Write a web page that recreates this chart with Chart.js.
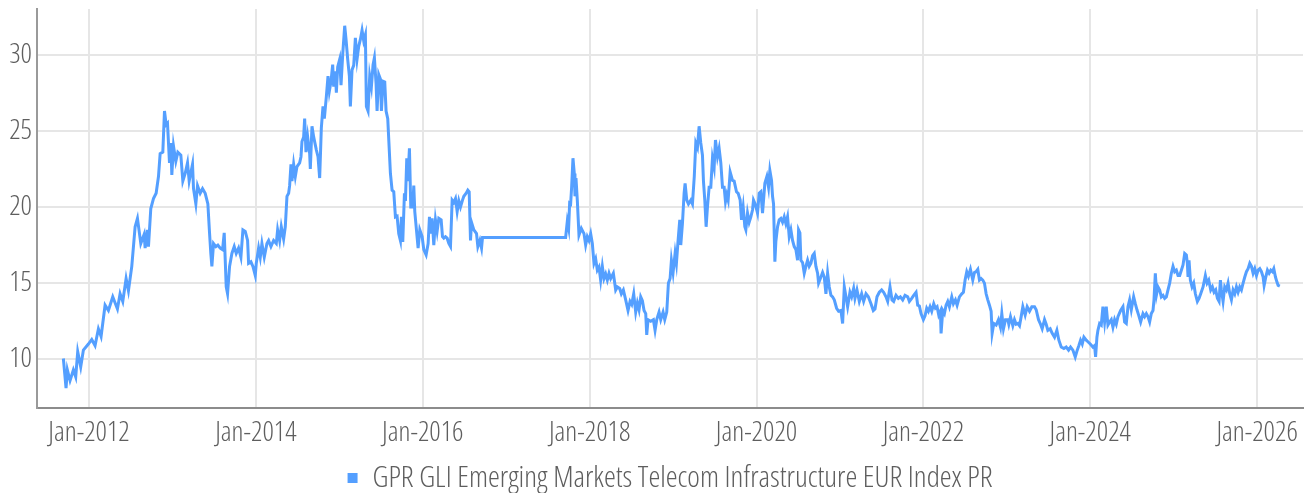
<!DOCTYPE html>
<html lang="en">
<head>
    <meta charset="UTF-8">
    <title>GPR GLI Emerging Markets Telecom Infrastructure EUR Index PR</title>
    <script src="https://cdn.jsdelivr.net/npm/chart.js@4"></script>
    <style>
        html, body { margin: 0; padding: 0; background: #ffffff; }
        #wrap { width: 1312px; height: 493px; }
    </style>
</head>
<body>
    <div id="wrap"><canvas id="indexChart" width="1312" height="493"></canvas></div>

    <script>
        const seriesLabel = 'GPR GLI Emerging Markets Telecom Infrastructure EUR Index PR';
        const xTicks = [2012, 2014, 2016, 2018, 2020, 2022, 2024, 2026];
        const yTicks = [10, 15, 20, 25, 30];

        const dates2011_2013 = [
            2011.692, 2011.724, 2011.740, 2011.772, 2011.812, 2011.840, 2011.864, 2011.900, 2011.932, 2011.992,
            2012.032, 2012.072, 2012.112, 2012.144, 2012.192, 2012.232, 2012.284, 2012.340, 2012.372, 2012.404,
            2012.444, 2012.472, 2012.512, 2012.552, 2012.580, 2012.620, 2012.660, 2012.672, 2012.700, 2012.712,
            2012.740, 2012.772, 2012.804, 2012.832, 2012.852, 2012.884, 2012.904, 2012.924, 2012.940, 2012.964,
            2012.980, 2012.992, 2013.012, 2013.040, 2013.064, 2013.100, 2013.124, 2013.152, 2013.180, 2013.200,
            2013.240, 2013.252, 2013.280, 2013.300, 2013.332, 2013.360, 2013.392, 2013.424, 2013.444, 2013.460,
            2013.472, 2013.492, 2013.520, 2013.544, 2013.572, 2013.600, 2013.620, 2013.644, 2013.660, 2013.684,
            2013.712, 2013.740, 2013.764, 2013.792, 2013.820, 2013.844, 2013.872, 2013.900, 2013.912, 2013.940,
            2013.964, 2013.992
        ];
        const values2011_2013 = [
            10.05, 8.1, 9.3, 8.6, 9.3, 8.85, 10.5, 9.5, 10.6, 11.0,
            11.3, 10.9, 12.0, 11.5, 13.55, 13.2, 14.1, 13.3, 14.3, 13.8,
            15.3, 14.5, 16.1, 18.7, 19.25, 17.6, 18.2, 17.3, 18.5, 17.4,
            19.9, 20.55, 20.9, 22.0, 23.5, 23.6, 26.3, 25.4, 25.5, 22.9,
            24.2, 22.1, 24.0, 23.0, 23.6, 23.4, 21.7, 22.2, 22.9, 21.7,
            22.8, 21.2, 20.2, 21.4, 20.9, 21.2, 20.9, 20.2, 18.3, 16.9,
            16.1, 17.6, 17.4, 17.5, 17.3, 17.2, 18.3, 14.75, 14.3, 16.1,
            16.95, 17.4, 16.95, 17.3, 16.7, 18.5, 18.4, 17.8, 16.3, 16.4,
            16.1, 15.5
        ];

        const dates2014_2016 = [
            2014.004, 2014.032, 2014.052, 2014.072, 2014.100, 2014.132, 2014.152, 2014.180, 2014.212, 2014.244,
            2014.260, 2014.284, 2014.304, 2014.332, 2014.352, 2014.372, 2014.392, 2014.404, 2014.420, 2014.432,
            2014.452, 2014.472, 2014.492, 2014.524, 2014.540, 2014.552, 2014.572, 2014.584, 2014.600, 2014.620,
            2014.644, 2014.652, 2014.672, 2014.692, 2014.724, 2014.744, 2014.764, 2014.784, 2014.804, 2014.820,
            2014.844, 2014.864, 2014.880, 2014.900, 2014.920, 2014.932, 2014.952, 2014.964, 2014.980, 2015.004,
            2015.020, 2015.040, 2015.064, 2015.080, 2015.100, 2015.120, 2015.132, 2015.152, 2015.172, 2015.192,
            2015.212, 2015.232, 2015.252, 2015.272, 2015.292, 2015.312, 2015.324, 2015.344, 2015.364, 2015.384,
            2015.404, 2015.420, 2015.440, 2015.452, 2015.472, 2015.492, 2015.504, 2015.524, 2015.544, 2015.560,
            2015.580, 2015.596, 2015.612, 2015.632, 2015.652, 2015.672, 2015.692, 2015.712, 2015.732, 2015.744,
            2015.760, 2015.780, 2015.792, 2015.808, 2015.820, 2015.840, 2015.856, 2015.880, 2015.892, 2015.904,
            2015.924, 2015.944, 2015.964, 2015.992, 2016.012, 2016.040, 2016.064, 2016.080, 2016.092, 2016.112,
            2016.132, 2016.152, 2016.172, 2016.192, 2016.220, 2016.236, 2016.252, 2016.272, 2016.292, 2016.312,
            2016.332, 2016.352, 2016.372, 2016.392, 2016.412, 2016.432, 2016.452, 2016.476, 2016.492, 2016.520,
            2016.540, 2016.556, 2016.572, 2016.584, 2016.612, 2016.644, 2016.660, 2016.684, 2016.704, 2016.716
        ];
        const values2014_2016 = [
            16.3, 17.3, 16.7, 17.6, 16.7, 17.6, 17.8, 17.4, 17.8, 17.6,
            18.5, 17.8, 18.7, 17.9, 18.7, 20.7, 20.9, 21.4, 22.8, 21.7,
            22.8, 22.0, 22.65, 22.9, 23.3, 24.3, 24.6, 25.8, 23.6, 24.6,
            23.5, 22.5, 25.3, 24.6, 23.75, 23.3, 21.9, 25.2, 26.6, 25.8,
            27.25, 28.6, 27.6, 28.25, 29.35, 27.9, 28.9, 27.5, 29.2, 29.7,
            28.0, 30.0, 31.9, 31.0, 29.7, 28.6, 26.6, 29.0, 29.3, 31.1,
            29.7, 30.55, 31.0, 31.6, 30.9, 31.3, 26.6, 26.3, 28.6, 27.9,
            29.35, 29.8, 28.1, 26.3, 28.7, 28.4, 26.3, 28.25, 28.2, 26.3,
            25.8, 24.0, 22.2, 21.1, 21.0, 19.35, 19.4, 18.25, 17.8, 19.35,
            17.7, 20.9, 20.4, 23.2, 21.7, 23.85, 20.0, 20.0, 21.4, 19.7,
            18.5, 17.3, 18.5, 18.05, 17.2, 16.85, 17.6, 19.35, 18.25, 19.25,
            17.5, 19.15, 18.4, 19.25, 19.15, 18.05, 17.95, 18.05, 17.95, 17.6,
            17.4, 20.45, 20.3, 20.55, 19.7, 20.4, 20.0, 20.45, 20.7, 20.9,
            21.1, 21.0, 17.8, 19.0, 18.5, 18.25, 17.4, 17.8, 17.3, 18.0
        ];

        const dates2017_2019 = [
            2017.712, 2017.732, 2017.748, 2017.760, 2017.772, 2017.784, 2017.800, 2017.816, 2017.824, 2017.836,
            2017.852, 2017.872, 2017.900, 2017.932, 2017.952, 2017.972, 2017.992, 2018.012, 2018.032, 2018.052,
            2018.072, 2018.092, 2018.112, 2018.132, 2018.152, 2018.172, 2018.192, 2018.212, 2018.232, 2018.252,
            2018.284, 2018.312, 2018.332, 2018.360, 2018.380, 2018.404, 2018.432, 2018.460, 2018.484, 2018.504,
            2018.528, 2018.552, 2018.572, 2018.592, 2018.612, 2018.632, 2018.652, 2018.672, 2018.684, 2018.700,
            2018.732, 2018.764, 2018.784, 2018.804, 2018.832, 2018.852, 2018.880, 2018.900, 2018.924, 2018.944,
            2018.964, 2018.980, 2019.000, 2019.024, 2019.040, 2019.060, 2019.080, 2019.092, 2019.112, 2019.132,
            2019.144, 2019.164, 2019.184, 2019.212, 2019.232, 2019.254, 2019.272, 2019.292, 2019.312, 2019.332,
            2019.352, 2019.364, 2019.380, 2019.396, 2019.412, 2019.432, 2019.452, 2019.472, 2019.492, 2019.508,
            2019.532, 2019.552, 2019.572, 2019.592, 2019.612, 2019.628, 2019.644, 2019.660, 2019.684, 2019.712,
            2019.732, 2019.760, 2019.780, 2019.804, 2019.820, 2019.840, 2019.860, 2019.872, 2019.892, 2019.912,
            2019.932, 2019.952, 2019.964, 2019.984
        ];
        const values2017_2019 = [
            18.0, 19.05, 18.6, 20.25, 20.2, 21.3, 23.2, 22.2, 20.7, 21.9,
            20.45, 18.15, 18.6, 18.25, 17.5, 18.05, 17.8, 18.25, 17.6, 16.3,
            16.6, 15.85, 16.05, 15.2, 16.1, 15.3, 15.6, 15.2, 15.65, 15.3,
            15.65, 14.55, 14.75, 14.65, 14.3, 14.55, 13.9, 13.2, 13.8, 13.6,
            14.3, 13.1, 13.7, 13.25, 14.1, 13.85, 13.2, 13.0, 11.6, 12.6,
            12.5, 12.6, 11.9, 12.6, 13.1, 12.6, 13.1, 12.6, 13.1, 15.0,
            15.3, 16.5, 15.7, 16.95, 16.3, 17.8, 19.15, 17.5, 18.9, 20.9,
            21.55, 20.45, 20.2, 20.45, 20.2, 22.0, 24.2, 23.9, 25.3, 24.2,
            23.4, 21.7, 20.45, 18.7, 20.0, 21.3, 21.3, 23.2, 22.6, 24.4,
            23.3, 23.85, 22.9, 21.3, 21.3, 20.35, 20.8, 20.45, 22.3, 21.75,
            21.7, 21.0, 20.9, 20.45, 19.15, 20.0, 18.7, 18.5, 19.6, 19.0,
            19.35, 19.8, 20.45, 20.2
        ];

        const dates2020_2022 = [
            2020.012, 2020.032, 2020.052, 2020.072, 2020.100, 2020.124, 2020.144, 2020.160, 2020.180, 2020.192,
            2020.204, 2020.220, 2020.232, 2020.252, 2020.272, 2020.292, 2020.312, 2020.332, 2020.352, 2020.372,
            2020.392, 2020.412, 2020.432, 2020.452, 2020.472, 2020.492, 2020.504, 2020.520, 2020.532, 2020.552,
            2020.572, 2020.592, 2020.612, 2020.632, 2020.652, 2020.672, 2020.692, 2020.712, 2020.732, 2020.744,
            2020.772, 2020.792, 2020.812, 2020.832, 2020.852, 2020.872, 2020.892, 2020.912, 2020.932, 2020.960,
            2020.984, 2021.012, 2021.032, 2021.052, 2021.072, 2021.092, 2021.120, 2021.140, 2021.164, 2021.180,
            2021.204, 2021.232, 2021.260, 2021.284, 2021.312, 2021.340, 2021.372, 2021.400, 2021.420, 2021.444,
            2021.472, 2021.500, 2021.524, 2021.552, 2021.572, 2021.600, 2021.624, 2021.644, 2021.672, 2021.700,
            2021.724, 2021.752, 2021.780, 2021.812, 2021.832, 2021.860, 2021.884, 2021.912, 2021.932, 2021.952,
            2021.972, 2022.000, 2022.020, 2022.040, 2022.060, 2022.080, 2022.100, 2022.124, 2022.144, 2022.164,
            2022.184, 2022.204, 2022.212, 2022.232, 2022.252, 2022.272, 2022.292, 2022.312, 2022.340, 2022.360,
            2022.384, 2022.404, 2022.432, 2022.460, 2022.480, 2022.500, 2022.520, 2022.540, 2022.564, 2022.592,
            2022.612, 2022.632, 2022.652, 2022.672, 2022.692, 2022.712, 2022.732, 2022.752, 2022.772, 2022.792,
            2022.812, 2022.824, 2022.844, 2022.872, 2022.900, 2022.924, 2022.940, 2022.960, 2022.984
        ];
        const values2020_2022 = [
            19.6, 20.9, 21.0, 19.6, 21.55, 22.0, 21.3, 22.4, 21.75, 20.7,
            20.2, 16.4, 17.75, 18.7, 19.15, 19.25, 19.0, 19.35, 18.9, 19.35,
            18.05, 18.5, 17.8, 17.4, 17.2, 16.5, 18.5, 18.3, 16.5, 16.35,
            15.65, 16.1, 16.5, 16.1, 16.3, 16.8, 16.95, 16.1, 15.65, 15.0,
            15.4, 15.7, 15.4, 14.3, 15.65, 14.75, 14.2, 14.1, 13.9, 13.35,
            13.15, 13.2, 12.35, 14.75, 14.1, 13.45, 14.4, 14.1, 14.65, 14.0,
            14.55, 13.8, 14.3, 13.8, 14.3, 14.1, 13.65, 13.2, 13.3, 14.1,
            14.4, 14.55, 14.4, 14.1, 13.8, 14.75, 13.9, 13.8, 14.2, 14.0,
            14.1, 13.9, 14.2, 14.1, 13.8, 14.0, 14.2, 14.4, 13.55, 13.5,
            13.0, 12.6, 12.85, 13.35, 13.15, 13.45, 13.15, 13.65, 13.35, 13.45,
            12.9, 13.15, 11.7, 13.2, 13.0, 13.55, 13.8, 13.45, 14.1, 13.65,
            13.9, 13.55, 14.1, 14.3, 14.4, 15.2, 15.75, 15.45, 15.9, 15.2,
            15.7, 15.75, 15.9, 15.2, 15.3, 15.2, 15.0, 14.3, 13.9, 13.55,
            13.15, 11.7, 12.35, 12.25, 12.6, 12.1, 13.0, 12.0, 12.6
        ];

        const dates2023_2026 = [
            2023.012, 2023.024, 2023.044, 2023.072, 2023.092, 2023.112, 2023.132, 2023.152, 2023.172, 2023.192,
            2023.220, 2023.244, 2023.272, 2023.300, 2023.332, 2023.352, 2023.380, 2023.404, 2023.424, 2023.452,
            2023.472, 2023.492, 2023.520, 2023.544, 2023.572, 2023.600, 2023.624, 2023.652, 2023.684, 2023.712,
            2023.740, 2023.764, 2023.792, 2023.820, 2023.844, 2023.864, 2023.884, 2023.904, 2023.924, 2023.952,
            2023.972, 2024.000, 2024.032, 2024.052, 2024.064, 2024.080, 2024.092, 2024.112, 2024.132, 2024.152,
            2024.172, 2024.192, 2024.212, 2024.232, 2024.252, 2024.272, 2024.292, 2024.312, 2024.332, 2024.364,
            2024.392, 2024.412, 2024.432, 2024.452, 2024.472, 2024.492, 2024.520, 2024.540, 2024.560, 2024.580,
            2024.604, 2024.632, 2024.652, 2024.672, 2024.692, 2024.712, 2024.732, 2024.752, 2024.764, 2024.780,
            2024.796, 2024.812, 2024.832, 2024.852, 2024.872, 2024.892, 2024.912, 2024.932, 2024.952, 2024.972,
            2024.992, 2025.012, 2025.032, 2025.052, 2025.072, 2025.092, 2025.112, 2025.132, 2025.152, 2025.164,
            2025.172, 2025.184, 2025.200, 2025.220, 2025.240, 2025.260, 2025.284, 2025.304, 2025.324, 2025.352,
            2025.380, 2025.400, 2025.420, 2025.444, 2025.464, 2025.484, 2025.504, 2025.524, 2025.544, 2025.560,
            2025.572, 2025.592, 2025.612, 2025.632, 2025.652, 2025.672, 2025.692, 2025.712, 2025.732, 2025.752,
            2025.772, 2025.792, 2025.812, 2025.832, 2025.852, 2025.872, 2025.892, 2025.912, 2025.932, 2025.952,
            2025.972, 2025.992, 2026.012, 2026.032, 2026.052, 2026.072, 2026.084, 2026.104, 2026.124, 2026.144,
            2026.164, 2026.184, 2026.200, 2026.220, 2026.236, 2026.252, 2026.272
        ];
        const values2023_2026 = [
            12.6, 12.3, 12.8, 12.2, 12.6, 12.3, 12.35, 12.2, 12.8, 13.45,
            12.9, 13.45, 13.15, 13.45, 13.45, 13.25, 12.6, 12.3, 12.0, 12.6,
            12.3, 11.9, 12.0, 11.7, 11.45, 11.9, 11.25, 10.8, 10.7, 10.8,
            10.6, 10.8, 10.6, 10.15, 10.6, 10.9, 11.25, 11.0, 11.45, 11.25,
            11.15, 11.0, 10.8, 10.9, 10.15, 11.45, 11.9, 12.35, 12.25, 13.45,
            12.45, 13.45, 12.25, 12.45, 12.6, 12.1, 12.6, 12.3, 12.8, 13.2,
            13.45, 12.45, 12.35, 13.45, 13.9, 13.25, 14.1, 13.65, 13.25, 12.9,
            12.45, 13.0, 12.8, 13.0, 12.8, 12.45, 13.0, 13.2, 13.9, 15.65,
            14.3, 14.75, 14.55, 14.1, 14.2, 14.0, 14.1, 14.55, 15.0, 15.65,
            16.1, 15.75, 15.85, 15.5, 15.5, 15.85, 16.2, 16.95, 16.85, 16.3,
            15.4, 16.5, 15.2, 14.75, 15.0, 14.3, 13.8, 14.0, 14.3, 14.75,
            15.5, 15.0, 15.2, 14.55, 14.75, 14.4, 14.55, 14.0, 13.8, 15.2,
            14.55, 13.8, 14.75, 14.55, 15.0, 14.3, 13.9, 14.55, 14.3, 14.75,
            14.4, 14.75, 14.55, 15.0, 15.4, 15.75, 15.95, 16.3, 16.1, 15.65,
            15.95, 15.5, 15.85, 15.95, 15.75, 15.4, 14.85, 15.4, 15.85, 15.65,
            15.85, 15.75, 15.95, 15.4, 15.1, 14.85, 14.8
        ];

        const allDates = [].concat(dates2011_2013, dates2014_2016, dates2017_2019, dates2020_2022, dates2023_2026);
        const allValues = [].concat(values2011_2013, values2014_2016, values2017_2019, values2020_2022, values2023_2026);
        const points = allDates.map((d, i) => ({ x: d, y: allValues[i] }));

        // condensed light face; the stretch keyword rides in the weight slot of the font string
        const fontFamily = "'Open Sans', Roboto, sans-serif";
        const tickFont = { family: fontFamily, size: 28, weight: 'condensed 300' };
        const legendFont = { family: fontFamily, size: 30, weight: 'condensed 300' };
        const textColor = '#5e5e5e';
        const lineColor = '#549fff';

        const ctx = document.getElementById('indexChart').getContext('2d');
        new Chart(ctx, {
            type: 'line',
            data: {
                datasets: [{
                    label: seriesLabel,
                    data: points,
                    borderColor: lineColor,
                    backgroundColor: lineColor,
                    borderWidth: 3,
                    pointRadius: 0,
                    tension: 0
                }]
            },
            options: {
                responsive: false,
                animation: false,
                layout: { padding: { top: 9, right: 9, left: 0, bottom: 0 } },
                plugins: {
                    tooltip: { enabled: false },
                    legend: {
                        position: 'bottom',
                        fullSize: false,
                        maxHeight: 32,
                        labels: {
                            color: textColor,
                            font: legendFont,
                            boxWidth: 10,
                            boxHeight: 10,
                            padding: 2,
                            generateLabels: (chart) => Chart.defaults.plugins.legend.labels.generateLabels(chart)
                                .map(l => Object.assign(l, { strokeStyle: 'rgba(0,0,0,0)', lineWidth: 0 }))
                        }
                    }
                },
                scales: {
                    x: {
                        type: 'linear',
                        min: 2011.376,
                        max: 2026.55,
                        afterBuildTicks: (scale) => { scale.ticks = xTicks.map(v => ({ value: v })); },
                        afterFit: (scale) => { scale.height = 53; scale.paddingLeft = 0; scale.paddingRight = 0; },
                        ticks: {
                            color: textColor,
                            font: tickFont,
                            padding: 8,
                            maxRotation: 0,
                            autoSkip: false,
                            callback: (v) => 'Jan-' + v
                        },
                        grid: { color: '#e6e6e6', lineWidth: 2, drawTicks: false },
                        border: { display: true, color: '#8c8c8c', width: 2 }
                    },
                    y: {
                        min: 6.8,
                        max: 33,
                        afterBuildTicks: (scale) => { scale.ticks = yTicks.map(v => ({ value: v })); },
                        afterFit: (scale) => { scale.width = 37; scale.paddingTop = 0; scale.paddingBottom = 0; },
                        ticks: {
                            color: textColor,
                            font: tickFont,
                            padding: 5
                        },
                        grid: { color: '#e6e6e6', lineWidth: 2, drawTicks: false },
                        border: { display: true, color: '#9a9a9a', width: 2 }
                    }
                }
            }
        });
    </script>
</body>
</html>
